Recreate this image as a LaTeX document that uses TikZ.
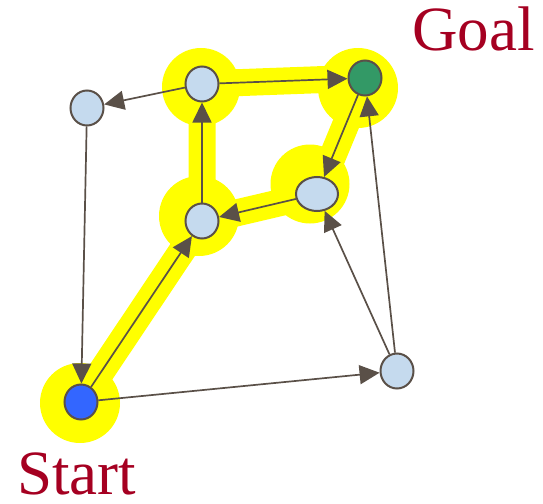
\documentclass[tikz,border=0pt]{standalone}
\usepackage{fontspec}
\setmainfont{Liberation Serif}
\usetikzlibrary{shapes.geometric,arrows.meta}
\definecolor{edgecol}{RGB}{90,80,72}
\definecolor{nodeblue}{RGB}{197,218,238}
\definecolor{goalgreen}{RGB}{51,153,102}
\definecolor{startblue}{RGB}{51,102,255}
\definecolor{hilite}{RGB}{255,255,0}
\definecolor{labelred}{RGB}{165,0,33}
\tikzset{
  vert/.style={ellipse, draw=edgecol, line width=2pt, fill=nodeblue, inner sep=0pt,
    minimum width=33pt, minimum height=35pt},
  edge/.style={draw=edgecol, line width=1.7pt, -{Triangle[length=20pt,width=19pt]}},
  band/.style={draw=hilite, line width=27pt, line join=round, line cap=round},
  halo/.style={fill=hilite},
  lab/.style={text=labelred, font=\fontsize{63pt}{63pt}\selectfont, inner sep=0pt, anchor=base west, text depth=0pt}
}
\begin{document}
\begin{tikzpicture}[x=1pt,y=-1pt]
\useasboundingbox (0,0) rectangle (543,503);
% node positions
\coordinate (pS) at (81,402);
\coordinate (pA) at (87,108);
\coordinate (pB) at (202,84);
\coordinate (pG) at (365,78);
\coordinate (pC) at (317,194);
\coordinate (pD) at (202,221);
\coordinate (pE) at (397,371);
% highlight
\draw[band] (pS) -- (pD) -- (pB) -- (pG) -- (pC) -- (pD);
\fill[halo] (80,403) circle (40);
\fill[halo] (199,216) circle (40);
\fill[halo] (201,87) circle (39);
\fill[halo] (358,88) circle (40);
\fill[halo] (310,184) circle (39.5);
% nodes
\node[vert, fill=startblue] (S) at (pS) {};
\node[vert] (A) at (pA) {};
\node[vert] (B) at (pB) {};
\node[vert, fill=goalgreen] (G) at (pG) {};
\node[vert, minimum width=42pt, minimum height=34pt] (C) at (pC) {};
\node[vert] (D) at (pD) {};
\node[vert] (E) at (pE) {};
% edges
\draw[edge] (B) -- (A);
\draw[edge] (B) -- (G);
\draw[edge] (G) -- (C);
\draw[edge] (C) -- (D);
\draw[edge] (D) -- (B);
\draw[edge] (S) -- (D);
\draw[edge] (A) -- (S);
\draw[edge] (S) -- (E);
\draw[edge] (E) -- (C);
\draw[edge] (E) -- (G);
% labels
\node[lab] (goal) at (412,51) {Goal};
\node[lab] (start) at (17,494) {Start};
\end{tikzpicture}
\end{document}
